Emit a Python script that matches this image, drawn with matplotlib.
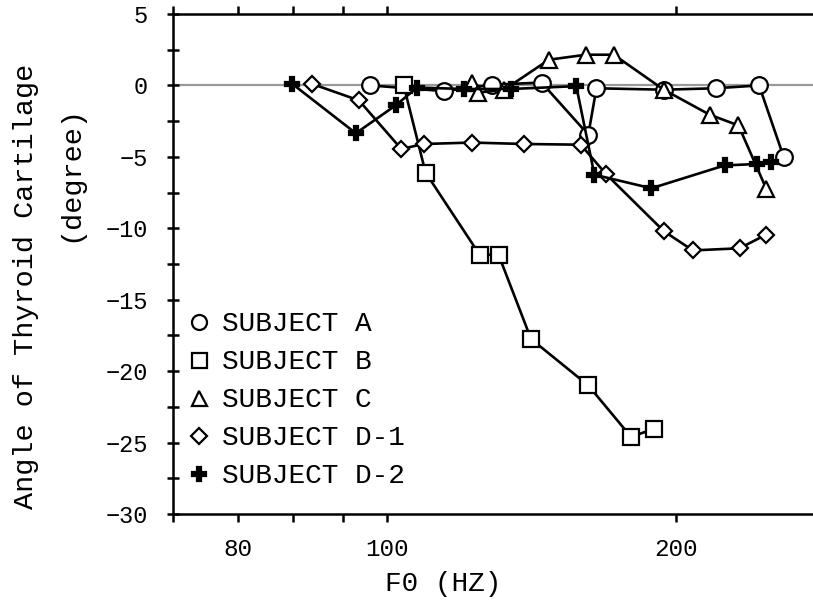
import matplotlib
matplotlib.use("Agg")
import matplotlib.pyplot as plt
from matplotlib.ticker import FixedLocator, FixedFormatter, NullLocator, MultipleLocator

plt.rcParams["font.family"] = ["Liberation Mono", "DejaVu Sans Mono"]

# ── Data ─────────────────────────────────────────────────────────────
a_f0 = [96.2, 114.9, 128.9, 145.0, 162.2, 165.4, 194.4, 220.1, 244.3, 259.1]
a_ang = [0.0, -0.4, 0.05, 0.2, -3.45, -0.2, -0.3, -0.2, 0.0, -5.0]

b_f0 = [104.2, 109.8, 125.0, 130.8, 141.4, 162.2, 179.7, 189.7]
b_ang = [0.0, -6.1, -11.85, -11.85, -17.75, -21.0, -24.6, -24.05]

c_f0 = [122.8, 124.6, 132.6, 147.6, 161.3, 172.4, 194.4, 217.0, 232.5, 248.6]
c_ang = [0.2, -0.5, -0.3, 1.8, 2.15, 2.15, -0.3, -2.05, -2.8, -7.25]

d1_f0 = [83.7, 93.6, 103.6, 109.3, 122.7, 139.1, 159.3, 169.2, 194.4, 208.4, 233.1, 248.4]
d1_ang = [0.1, -1.05, -4.45, -4.1, -4.0, -4.1, -4.15, -6.2, -10.2, -11.55, -11.4, -10.45]

d2_f0 = [79.8, 92.9, 102.2, 107.6, 120.5, 134.8, 157.6, 164.6, 188.7, 224.9, 243.2, 251.6]
d2_ang = [0.1, -3.35, -1.4, -0.15, -0.25, -0.25, -0.05, -6.25, -7.2, -5.6, -5.5, -5.35]

x_ticks = [60, 70, 80, 90, 100, 200]
x_tick_labels = ["", "80", "", "", "100", "200"]

# ── Figure ───────────────────────────────────────────────────────────
fig = plt.figure(figsize=(8.13, 6.03), dpi=100)
ax = fig.add_axes([0.2134, 0.1476, 0.7866, 0.8292])

ax.axhline(0, color="#999999", lw=1.6, zorder=1)

lw = 1.9
mew = 1.6
series = [
    (a_f0, a_ang, "o", 12, "white", "SUBJECT A"),
    (b_f0, b_ang, "s", 12, "white", "SUBJECT B"),
    (c_f0, c_ang, "^", 12, "white", "SUBJECT C"),
    (d1_f0, d1_ang, "D", 8.5, "white", "SUBJECT D-1"),
    (d2_f0, d2_ang, "P", 10.5, "black", "SUBJECT D-2"),
]
handles = []
for i, (x, y, m, ms, fc, lab) in enumerate(series):
    ax.plot(x, y, color="black", lw=lw, marker=m, ms=ms, mfc=fc,
            mec="black", mew=mew, zorder=3 + i)
    h, = ax.plot([], [], ls="none", marker=m, ms=ms * 0.9, mfc=fc,
                 mec="black", mew=mew, label=lab)
    handles.append(h)

ax.set_xscale("log")
ax.set_xlim(60, 278)
ax.set_ylim(-30, 5)

ax.xaxis.set_major_locator(FixedLocator(x_ticks))
ax.xaxis.set_major_formatter(FixedFormatter(x_tick_labels))
ax.xaxis.set_minor_locator(NullLocator())
ax.yaxis.set_major_locator(MultipleLocator(5))
ax.yaxis.set_minor_locator(MultipleLocator(2.5))

ax.spines["right"].set_visible(False)
for s in ["left", "top", "bottom"]:
    ax.spines[s].set_linewidth(1.8)

ax.tick_params(axis="x", which="major", direction="out", length=6, width=1.8,
               labelsize=17.5, pad=11, top=True, labeltop=False)
ax.tick_params(axis="y", which="both", direction="inout", length=9, width=1.8,
               labelsize=17, pad=14)

ax.set_xlabel("F0 (HZ)", fontsize=20)
ax.xaxis.set_label_coords(0.421, -0.115)

fig.text(0.032, 0.525, "Angle of Thyroid Cartilage", rotation=90,
         ha="center", va="center", fontsize=20.5)
fig.text(0.086, 0.713, "(degree)", rotation=90,
         ha="center", va="center", fontsize=20.5)

ax.legend(handles=handles, loc="upper left", bbox_to_anchor=(0.022, 0.405),
          frameon=False, fontsize=20, handlelength=0.8, handletextpad=0.45,
          labelspacing=0.43, borderpad=0, borderaxespad=0)

fig.savefig("out.png", dpi=100)
